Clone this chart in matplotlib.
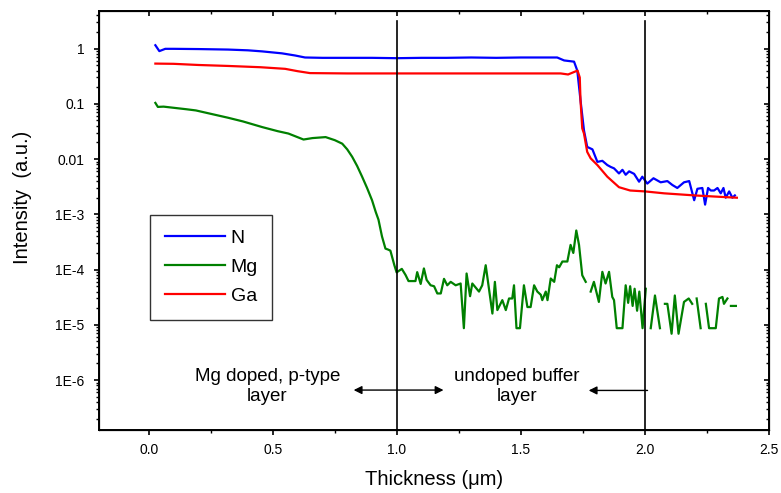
import numpy as np
import matplotlib
matplotlib.use("Agg")
import matplotlib.pyplot as plt
from matplotlib.ticker import FixedLocator, FixedFormatter, LogLocator, NullFormatter, MultipleLocator

plt.rcParams['font.family'] = ['Liberation Sans', 'DejaVu Sans']

nan = np.nan

# ---- N (blue) ----
n_x = [0.027, 0.043, 0.067, 0.10, 0.20, 0.32, 0.40, 0.457, 0.537, 0.59, 0.63, 0.70, 0.80, 0.90,
       1.00, 1.10, 1.20, 1.30, 1.40, 1.50, 1.60, 1.646, 1.674, 1.714, 1.727, 1.74, 1.754, 1.767,
       1.788, 1.808, 1.828, 1.848, 1.862, 1.875, 1.895, 1.909, 1.922, 1.936, 1.956, 1.976, 1.989,
       2.009, 2.034, 2.063, 2.09, 2.11, 2.13, 2.157, 2.178, 2.198, 2.211, 2.231, 2.242, 2.254,
       2.265, 2.278, 2.292, 2.305, 2.316, 2.325, 2.339, 2.352, 2.362]
n_y = [1.15, 0.90, 0.99, 0.99, 0.98, 0.96, 0.93, 0.89, 0.82, 0.75, 0.69, 0.68, 0.68, 0.68,
       0.67, 0.68, 0.68, 0.69, 0.68, 0.69, 0.69, 0.69, 0.61, 0.58, 0.40, 0.116, 0.033, 0.0166,
       0.015, 0.0089, 0.0093, 0.0078, 0.0072, 0.0068, 0.0055, 0.0064, 0.0052, 0.0060, 0.0054, 0.0039, 0.0048,
       0.0036, 0.0045, 0.0038, 0.0040, 0.0034, 0.0030, 0.0038, 0.0040, 0.0018, 0.0029, 0.0030, 0.0015, 0.0030,
       0.0027, 0.0027, 0.0030, 0.0024, 0.0030, 0.0020, 0.0026, 0.0020, 0.0022]

# ---- Ga (red) ----
ga_x = [0.027, 0.10, 0.20, 0.32, 0.45, 0.55, 0.60, 0.65, 0.80, 1.00, 1.20, 1.40, 1.60, 1.66,
        1.69, 1.728, 1.737, 1.74, 1.747, 1.754, 1.767, 1.781, 1.808, 1.848, 1.895, 1.94,
        2.00, 2.077, 2.20, 2.28, 2.37]
ga_y = [0.535, 0.53, 0.505, 0.485, 0.46, 0.43, 0.39, 0.36, 0.355, 0.355, 0.355, 0.355, 0.355, 0.355,
        0.34, 0.40, 0.30, 0.116, 0.036, 0.029, 0.0135, 0.0103, 0.0078, 0.0048, 0.0031, 0.0027,
        0.0026, 0.0024, 0.0022, 0.0021, 0.0020]

# ---- Mg (green) ----  (nan = missing / zero counts)
mg_x = [0.027, 0.037, 0.06, 0.10, 0.15, 0.19, 0.25, 0.32, 0.38, 0.457, 0.52, 0.563, 0.60, 0.624,
        0.66, 0.713, 0.75, 0.78, 0.80, 0.82, 0.84, 0.86, 0.88, 0.90, 0.915, 0.926, 0.94, 0.954,
        0.965, 0.974, 0.99, 0.999, 1.02, 1.035, 1.047, 1.06, 1.075, 1.082, 1.096, 1.109, 1.12,
        1.136, 1.150, 1.163, 1.177, 1.19, 1.203, 1.217, 1.237, 1.257, 1.270, 1.281, 1.295, 1.304,
        1.331, 1.344, 1.358, 1.385, 1.395, 1.405, 1.425, 1.439, 1.452, 1.465, 1.472, 1.482, 1.496,
        1.512, 1.526, 1.539, 1.553, 1.566, 1.580, 1.586, 1.600, 1.607, 1.620, 1.634, 1.645, 1.654,
        1.667, 1.687, 1.700, 1.711, 1.723, 1.734, 1.747, 1.761, 1.771,
        1.781, 1.794, 1.814, 1.828, 1.841, 1.855, 1.868, 1.875, 1.886, 1.909, 1.922, 1.932, 1.940,
        1.950, 1.958, 1.968, 1.977, 1.990, 2.003, 2.012,
        2.023, 2.04, 2.06, 2.07,
        2.08, 2.09, 2.107, 2.12, 2.127, 2.135, 2.157, 2.176, 2.19, 2.199,
        2.208, 2.224, 2.234,
        2.245, 2.258, 2.285, 2.298, 2.312, 2.318, 2.332, 2.339,
        2.346, 2.366]
mg_y = [0.104, 0.088, 0.089, 0.085, 0.080, 0.076, 0.066, 0.056, 0.048, 0.038, 0.032, 0.029, 0.025, 0.0226,
        0.024, 0.025, 0.022, 0.019, 0.015, 0.011, 0.0075, 0.0048, 0.0030, 0.0018, 0.0011, 8e-4, 4e-4, 2.4e-4,
        2.3e-4, 2.2e-4, 1.2e-4, 8.9e-5, 1.03e-4, 8e-5, 6.2e-5, 6.2e-5, 6.2e-5, 9e-5, 5.5e-5, 1.05e-4, 6.5e-5,
        5.2e-5, 5.0e-5, 3.7e-5, 3.7e-5, 6.8e-5, 5.2e-5, 6.0e-5, 5.2e-5, 5.6e-5, 8.7e-6, 8.5e-5, 3.3e-5, 5.6e-5,
        4.0e-5, 5.2e-5, 1.2e-4, 1.6e-5, 6.0e-5, 1.85e-5, 2.8e-5, 1.85e-5, 3.0e-5, 3.0e-5, 5.2e-5, 8.7e-6, 8.7e-6,
        5.2e-5, 2.1e-5, 2.1e-5, 5.2e-5, 4.0e-5, 3.5e-5, 2.8e-5, 4.0e-5, 2.8e-5, 6.9e-5, 6.0e-5, 1.2e-4, 1.1e-4,
        1.4e-4, 1.4e-4, 2.8e-4, 2.0e-4, 5.1e-4, 2.8e-4, 7.9e-5, 6.0e-5, nan,
        4.0e-5, 6.0e-5, 2.6e-5, 9.1e-5, 5.6e-5, 9.1e-5, 3.2e-5, 2.8e-5, 8.7e-6, 8.7e-6, 5.2e-5, 2.5e-5, 5.0e-5,
        2.2e-5, 4.5e-5, 1.8e-5, 4.0e-5, 8.7e-6, 4.5e-5, nan,
        8.7e-6, 3.4e-5, 8.7e-6, nan,
        2.4e-5, 2.4e-5, 6.9e-6, 3.4e-5, 1.6e-5, 6.9e-6, 2.6e-5, 3.0e-5, 2.4e-5, nan,
        3.0e-5, 8.7e-6, nan,
        2.4e-5, 8.7e-6, 8.7e-6, 3.0e-5, 3.2e-5, 2.4e-5, 3.0e-5, nan,
        2.2e-5, 2.2e-5]

y_ticks = [1e-6, 1e-5, 1e-4, 1e-3, 1e-2, 1e-1, 1]
y_tick_labels = ["1E-6", "1E-5", "1E-4", "1E-3", "0.01", "0.1", "1"]
x_ticks = [0.0, 0.5, 1.0, 1.5, 2.0, 2.5]
x_tick_labels = ["0.0", "0.5", "1.0", "1.5", "2.0", "2.5"]

fig = plt.figure(figsize=(7.81, 4.93), dpi=100)
ax = fig.add_axes([0.1268, 0.1278, 0.858, 0.85])

ax.plot(n_x, n_y, color='#0000ff', lw=1.6, label='N')
ax.plot(mg_x, mg_y, color='#008000', lw=1.6, label='Mg')
ax.plot(ga_x, ga_y, color='#ff0000', lw=1.6, label='Ga')

ax.set_yscale('log')
ylim = (1.25e-7, 4.8)
xlim = (-0.2, 2.5)
ax.set_ylim(*ylim)
ax.set_xlim(*xlim)

ax.axvline(1.0, ymax=0.976, color='black', lw=1.2)
ax.axvline(2.0, ymax=0.976, color='black', lw=1.2)

ax.yaxis.set_major_locator(FixedLocator(y_ticks))
ax.yaxis.set_major_formatter(FixedFormatter(y_tick_labels))
ax.yaxis.set_minor_locator(LogLocator(base=10, subs=np.arange(2, 10), numticks=20))
ax.yaxis.set_minor_formatter(NullFormatter())
ax.xaxis.set_major_locator(FixedLocator(x_ticks))
ax.xaxis.set_major_formatter(FixedFormatter(x_tick_labels))
ax.xaxis.set_minor_locator(MultipleLocator(0.25))

ax.tick_params(which='major', direction='out', length=3.6, width=1.2, labelsize=10)
ax.tick_params(axis='y', which='major', pad=7)
ax.tick_params(axis='x', which='major', pad=6)
ax.tick_params(which='minor', direction='out', length=2.2, width=1.0)
for s in ax.spines.values():
    s.set_linewidth(1.4)

# mirrored inward ticks on top / right
axr = ax.twinx()
axr.set_yscale('log')
axr.set_ylim(*ylim)
axr.yaxis.set_major_locator(FixedLocator(y_ticks))
axr.yaxis.set_minor_locator(LogLocator(base=10, subs=np.arange(2, 10), numticks=20))
axr.yaxis.set_minor_formatter(NullFormatter())
axr.tick_params(which='major', direction='in', length=3.6, width=1.2, labelright=False)
axr.tick_params(which='minor', direction='in', length=2.2, width=1.0)
axt = ax.twiny()
axt.set_xlim(*xlim)
axt.xaxis.set_major_locator(FixedLocator(x_ticks))
axt.xaxis.set_minor_locator(MultipleLocator(0.25))
axt.tick_params(which='major', direction='in', length=3.6, width=1.2, labeltop=False)
axt.tick_params(which='minor', direction='in', length=2.2, width=1.0)

ax.set_xlabel('Thickness (μm)', fontsize=14.5, labelpad=9)
ax.set_ylabel('Intensity  (a.u.)', fontsize=14.5)
ax.yaxis.set_label_coords(-0.1, 0.554)

leg = ax.legend(loc='upper left', bbox_to_anchor=(0.076, 0.513), fontsize=14,
                frameon=True, fancybox=False, edgecolor='black', handlelength=3.1,
                handletextpad=0.3, labelspacing=0.58, borderpad=0.75, borderaxespad=0)
leg.get_frame().set_linewidth(1.0)

ax.text(0.478, 7.6e-7, 'Mg doped, p-type\nlayer', ha='center', va='center', fontsize=13.5, linespacing=1.2)
ax.text(1.485, 7.6e-7, 'undoped buffer\nlayer', ha='center', va='center', fontsize=13.5, linespacing=1.2)
ax.annotate('', xy=(0.826, 6.6e-7), xytext=(1.188, 6.6e-7),
            arrowprops=dict(arrowstyle='<|-|>', color='black', lw=1.0, mutation_scale=12, shrinkA=0, shrinkB=0))
ax.annotate('', xy=(1.773, 6.5e-7), xytext=(2.01, 6.5e-7),
            arrowprops=dict(arrowstyle='-|>', color='black', lw=1.0, mutation_scale=12, shrinkA=0, shrinkB=0))

fig.savefig('out.png', dpi=100)
